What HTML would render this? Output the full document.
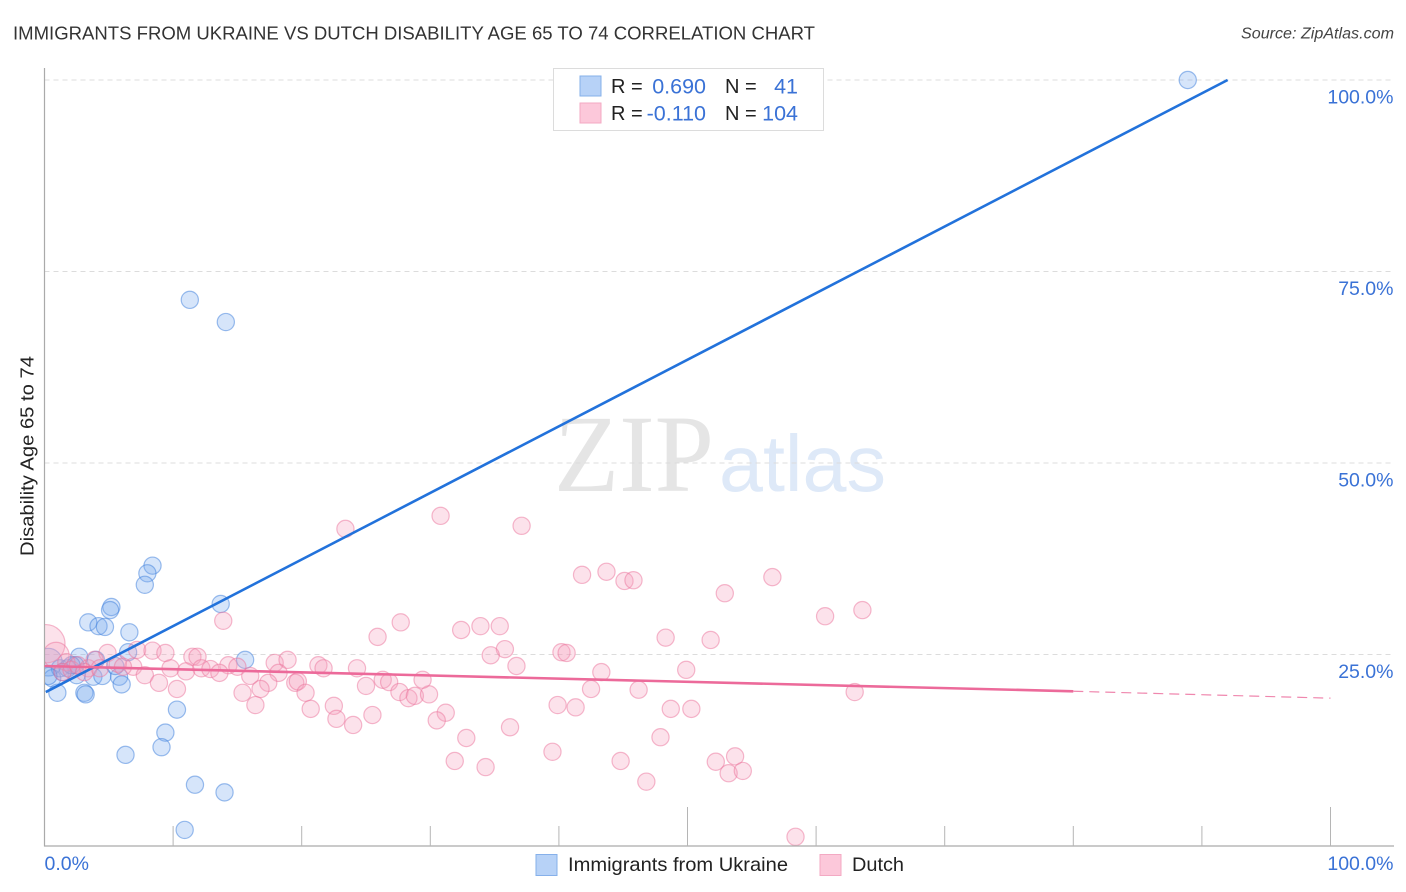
<!DOCTYPE html>
<html lang="en">
<head>
<meta charset="utf-8">
<title>Immigrants from Ukraine vs Dutch Disability Age 65 to 74 Correlation Chart</title>
<style>
  html, body { margin: 0; padding: 0; background: #fff; }
  svg { display: block; font-family: "Liberation Sans", sans-serif; }
</style>
</head>
<body>
<svg id="chart" xmlns="http://www.w3.org/2000/svg" width="1406" height="892" viewBox="0 0 1406 892">
  <text x="13" y="39.5" font-size="18.5" fill="#333" textLength="802" lengthAdjust="spacingAndGlyphs">IMMIGRANTS FROM UKRAINE VS DUTCH DISABILITY AGE 65 TO 74 CORRELATION CHART</text>
  <text x="1241" y="38.5" font-size="15.5" font-style="italic" fill="#444" textLength="153" lengthAdjust="spacingAndGlyphs">Source: ZipAtlas.com</text>
  <g>
    <text x="554" y="491" font-family="'Liberation Serif', serif" font-size="110" fill="#e5e5e5" textLength="160" lengthAdjust="spacingAndGlyphs">ZIP</text>
    <text x="719" y="491" font-size="80" fill="#dee9f8" textLength="167" lengthAdjust="spacingAndGlyphs">atlas</text>
  </g>
  <g id="grid"></g>
  <g id="points"></g>
  <rect x="0" y="60" width="44.5" height="800" fill="#fff"/>
  <g id="axes"></g>
  <g id="trends"></g>
  <text transform="translate(33.5,456) rotate(-90)" font-size="18.5" fill="#222" text-anchor="middle" textLength="200" lengthAdjust="spacingAndGlyphs">Disability Age 65 to 74</text>
  <g id="top-legend">
    <rect x="553.5" y="68.5" width="270" height="62" fill="#fff" stroke="#dcdcdc" stroke-width="1"/>
    <rect x="580" y="76" width="21" height="20" fill="#b7d2f7" stroke="#86b0ea" stroke-width="1"/>
    <rect x="580" y="103" width="21" height="20" fill="#fcc8da" stroke="#f3a9c3" stroke-width="1"/>
    <g font-size="20" fill="#222">
      <text x="611" y="93">R =</text>
      <text x="725" y="93">N =</text>
      <text x="611" y="120">R =</text>
      <text x="725" y="120">N =</text>
    </g>
    <g font-size="21.5" fill="#3a72d6" text-anchor="end">
      <text x="706" y="93.5">0.690</text>
      <text x="798" y="93.5">41</text>
      <text x="706" y="120.5">-0.110</text>
      <text x="798" y="120.5">104</text>
    </g>
  </g>
  <g id="bottom-legend">
    <rect x="536" y="854.5" width="21" height="21" fill="#b7d2f7" stroke="#86b0ea" stroke-width="1"/>
    <text x="568" y="871" font-size="19.5" fill="#222" textLength="220" lengthAdjust="spacingAndGlyphs">Immigrants from Ukraine</text>
    <rect x="820" y="854.5" width="21" height="21" fill="#fcc8da" stroke="#f3a9c3" stroke-width="1"/>
    <text x="852" y="871" font-size="19.5" fill="#222" textLength="52" lengthAdjust="spacingAndGlyphs">Dutch</text>
  </g>
</svg>
<script>
const xTickValues = [10, 20, 30, 40, 50, 60, 70, 80, 90, 100];
const xMajorTicks = [50, 100];
const xEdgeLabels = ["0.0%", "100.0%"];
const xEdgeValues = [0, 100];
const yTickValues = [100, 75, 50, 25];
const yTickLabels = ["100.0%", "75.0%", "50.0%", "25.0%"];

const ukraineX = [88.9,11.3,14.1,8.4,8.0,7.8,5.2,5.1,3.4,4.2,4.7,6.6,6.5,13.7,15.6,2.7,1.0,3.1,3.2,3.8,4.5,5.8,6.0,10.3,9.4,9.1,6.3,11.7,14.0,10.9,4.0,5.5,2.4,2.5,0.3,0.6,1.2,1.8,1.4,0.3,2.1];
const ukraineY = [100.0,71.3,68.4,36.6,35.6,34.1,31.2,30.8,29.2,28.7,28.6,27.9,25.3,31.6,24.3,24.7,20.0,20.0,19.8,22.1,22.2,22.1,21.1,17.8,14.8,12.9,11.9,8.0,7.0,2.1,24.3,23.5,23.6,22.3,24.0,21.9,23.2,23.2,22.7,22.2,23.6];
const ukraineWeight = [1,1,1,1,1,1,1,1,1,1,1,1,1,1,1,1,1,1,1,1,1,1,1,1,1,1,1,1,1,1,1,1,1,1,2.6,1,1,1,1,1,1];

const dutchX = [30.8,37.1,41.8,43.7,45.1,45.8,27.7,25.9,32.4,33.9,35.4,35.8,34.7,36.7,40.2,40.6,48.3,49.9,43.3,42.5,46.2,39.9,41.3,48.7,50.3,47.9,36.2,39.5,44.8,46.8,32.8,31.9,34.3,31.2,30.5,25.5,24.0,24.3,25.0,26.3,26.8,27.6,28.3,28.8,29.9,29.4,56.6,52.9,51.8,60.7,63.6,63.0,52.2,53.7,53.2,54.3,58.4,13.9,0.1,0.9,4.9,7.2,8.4,9.4,11.5,11.9,14.3,15.0,17.9,18.9,21.3,21.7,6.9,9.8,11.0,12.2,12.9,13.6,16.0,18.2,17.4,16.8,15.4,16.4,19.5,19.7,20.3,20.7,22.5,22.7,7.8,8.9,10.3,1.7,1.4,2.1,2.6,3.4,3.9,4.3,5.7,6.1,3.1,23.4];
const dutchY = [43.1,41.8,35.4,35.8,34.6,34.7,29.2,27.3,28.2,28.7,28.7,25.7,24.9,23.5,25.3,25.2,27.2,23.0,22.7,20.5,20.4,18.4,18.1,17.9,17.9,14.2,15.5,12.3,11.1,8.4,14.1,11.1,10.3,17.4,16.4,17.1,15.8,23.2,20.9,21.7,21.4,20.1,19.3,19.6,19.8,21.7,35.1,33.0,26.9,30.0,30.8,20.1,11.0,11.7,9.5,9.8,1.2,29.4,26.4,24.9,25.2,25.6,25.5,25.2,24.7,24.7,23.6,23.4,23.9,24.3,23.6,23.2,23.4,23.2,22.8,23.2,23.1,22.6,22.2,22.6,21.3,20.5,20.0,18.4,21.3,21.5,20.0,17.9,18.3,16.6,22.3,21.3,20.5,24.0,22.7,23.0,23.6,23.2,24.3,23.2,23.8,23.4,22.7,41.4];
const dutchWeight = [1,1,1,1,1,1,1,1,1,1,1,1,1,1,1,1,1,1,1,1,1,1,1,1,1,1,1,1,1,1,1,1,1,1,1,1,1,1,1,1,1,1,1,1,1,1,1,1,1,1,1,1,1,1,1,1,1,1,5,2.3,1,1,1,1,1,1,1,1,1,1,1,1,1,1,1,1,1,1,1,1,1,1,1,1,1,1,1,1,1,1,1,1,1,1,1,1,1,1,1,1,1,1,1,1];

const ukraineTrendX = [0.1, 92];
const ukraineTrendY = [20.1, 100];
const dutchTrendX = [0, 80];
const dutchTrendY = [23.5, 20.2];
const dutchProjectionX = [80, 100];
const dutchProjectionY = [20.2, 19.3];

const xScale = function (v) { return 44.5 + v * 12.86; };
const yScale = function (v) { return 846 - v * 7.66; };
const rScale = function (w) { return 8.6 * Math.sqrt(w); };
const NS = "http://www.w3.org/2000/svg";

function make(tag, parent, attrs) {
  const el = document.createElementNS(NS, tag);
  Object.keys(attrs).forEach(function (k) { el.setAttribute(k, attrs[k]); });
  parent.appendChild(el);
  return el;
}

const grid = document.getElementById("grid");
yTickValues.forEach(function (v) {
  const line = make("line", grid, { x1: 44.5, x2: 1394, y1: yScale(v), y2: yScale(v), stroke: "#dcdcdc", "stroke-width": 1, "stroke-dasharray": "5 4" });
  
  
});

const axes = document.getElementById("axes");
const yAxisLine = make("line", axes, { x1: 44.5, x2: 44.5, y1: 68, y2: 846.5, stroke: "#aaa", "stroke-width": 1.2 });


const xAxisLine = make("line", axes, { x1: 44, x2: 1394, y1: 846, y2: 846, stroke: "#aaa", "stroke-width": 1.2 });



xTickValues.forEach(function (v) {
  const major = xMajorTicks.indexOf(v) >= 0;
  const tick = make("line", axes, { x1: xScale(v), x2: xScale(v), y1: major ? 807 : 826, y2: 846, stroke: "#b5b5b5", "stroke-width": 1 });
  
  
});

yTickValues.forEach(function (v, i) {
  const label = make("text", axes, { x: 1393.5, y: yScale(v) + 23.5, "font-size": 19.5, fill: "#3a72d6", "text-anchor": "end" });
  label.textContent = yTickLabels[i];
  
  
});

xEdgeValues.forEach(function (v, i) {
  const label = make("text", axes, { x: i === 0 ? xScale(v) : 1393.5, y: 870, "font-size": 19.5, fill: "#3a72d6", "text-anchor": i === 0 ? "start" : "end" });
  label.textContent = xEdgeLabels[i];
  
  
});

const points = document.getElementById("points");
ukraineX.forEach(function (x, i) {
  const c = make("circle", points, { cx: xScale(x), cy: yScale(ukraineY[i]), r: rScale(ukraineWeight[i]), fill: "rgba(120,170,238,0.3)", stroke: "rgba(60,125,220,0.5)", "stroke-width": 1.2 });
  
  
});
dutchX.forEach(function (x, i) {
  const c = make("circle", points, { cx: xScale(x), cy: yScale(dutchY[i]), r: rScale(dutchWeight[i]), fill: "rgba(246,160,190,0.3)", stroke: "rgba(236,115,155,0.5)", "stroke-width": 1.2 });
  
  
});

const trends = document.getElementById("trends");
const ukraineTrend = make("line", trends, { x1: xScale(ukraineTrendX[0]), y1: yScale(ukraineTrendY[0]), x2: xScale(ukraineTrendX[1]), y2: yScale(ukraineTrendY[1]), stroke: "#2272db", "stroke-width": 2.6 });


const dutchTrend = make("line", trends, { x1: xScale(dutchTrendX[0]), y1: yScale(dutchTrendY[0]), x2: xScale(dutchTrendX[1]), y2: yScale(dutchTrendY[1]), stroke: "#ec6a9a", "stroke-width": 2.6 });


const dutchProjection = make("line", trends, { x1: xScale(dutchProjectionX[0]), y1: yScale(dutchProjectionY[0]), x2: xScale(dutchProjectionX[1]), y2: yScale(dutchProjectionY[1]), stroke: "#ec6a9a", "stroke-width": 1.2, "stroke-dasharray": "10 6", opacity: 0.8 });


</script>
</body>
</html>
